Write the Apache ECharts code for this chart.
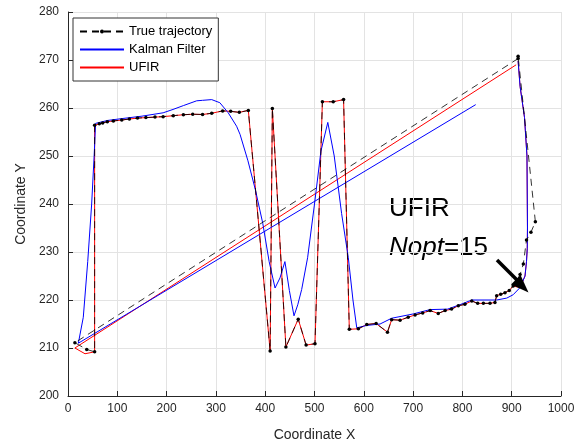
<!DOCTYPE html>
<html>
<head>
<meta charset="utf-8">
<script src="https://cdn.jsdelivr.net/npm/echarts@6/dist/echarts.min.js"></script>
<style>
  html, body { margin: 0; padding: 0; background: #fff; }
  #main { width: 580px; height: 447px; }
</style>
</head>
<body>
<div id="main"></div>
<script>
// true trajectory (black dashed with dots)
var trueX = [913, 14, 38, 54, 54, 63.5, 70.3, 79.8, 92, 109, 124.5, 141, 158, 176.5, 193, 213.6, 234, 253, 273, 291.5, 313.7, 330, 347.5, 365.8,
  410, 414.5, 442, 467, 483, 501, 516, 538, 559, 570.6, 589, 606, 625, 648, 656.5, 673.5, 690, 704, 719.5, 734.5, 751, 765, 778, 791.7,
  805, 819, 831, 842.5, 856, 866, 869.5, 877.7, 886.4, 895, 903, 910, 917, 923.6, 930, 939, 948, 913];
var trueY = [270.3, 211.1, 209.7, 209.2, 256.4, 256.7, 256.9, 257.15, 257.3, 257.5, 257.7, 257.9, 258, 258.1, 258.2, 258.4, 258.6, 258.7, 258.65, 258.9, 259.4, 259.3, 259.1, 259.5,
  209.4, 259.9, 210.2, 216, 210.6, 210.9, 261.3, 261.3, 261.75, 213.9, 214, 214.9, 215.1, 213.3, 215.9, 215.8, 216.4, 216.9, 217.3, 217.8, 217.2, 217.8, 218.1, 218.8,
  219.1, 219.8, 219.3, 219.3, 219.3, 219.5, 220.9, 221.2, 221.5, 222, 222.9, 224, 225.3, 227.5, 232.5, 234.1, 236.3, 270.8];

// Kalman filter estimate (blue)
var kfX = [827, 21, 31, 40, 48, 53, 56, 80, 110, 150, 193, 213, 234, 261, 273, 291.5, 308, 325, 342, 349, 365, 380, 395, 408, 420, 430, 440,
  449, 458.4, 466, 474, 486, 500, 513, 527, 540, 555, 568.6, 578, 585.7, 606, 633, 656.5, 700.5, 734.5, 770, 797, 819, 869.5, 890,
  903, 917, 927, 930, 931.6, 932, 931, 926, 917, 913];
var kfY = [260.7, 211, 216.4, 228, 240, 250, 256.8, 257.4, 257.8, 258.3, 259, 259.7, 260.5, 261.5, 261.6, 261.75, 261.1, 259, 256.2, 254.5, 249, 243, 236, 228, 222.5, 224.6, 228,
  222, 216.7, 219, 222.2, 228.8, 240, 251, 257, 250, 238, 228.8, 220, 214.2, 214.7, 215, 216.2, 217.1, 218, 218.1, 219.1, 220, 220, 220.4,
  221.1, 222.6, 225, 228, 230.8, 235, 250, 258, 264.5, 269.8];

// UFIR estimate (red)
var ufirX = [909, 14, 34.5, 54, 54, 63.5, 70.3, 79.8, 92, 109, 124.5, 141, 158, 176.5, 193, 213.6, 234, 253, 273, 291.5, 313.7, 330, 347.5, 365.8,
  410, 414.5, 442, 467, 483, 501, 516, 538, 559, 570.6, 589, 606, 625, 648, 656.5, 673.5, 690, 704, 719.5, 734.5, 751, 765, 778, 791.7,
  805, 819, 831, 842.5, 856, 866, 869.5, 877.7, 886.4, 895, 903, 917, 927, 930, 931.6, 932, 931, 926, 917, 913];
var ufirY = [269, 210, 208.8, 209.2, 256.4, 256.7, 256.9, 257.15, 257.3, 257.5, 257.7, 257.9, 258, 258.1, 258.2, 258.4, 258.6, 258.7, 258.65, 258.9, 259.4, 259.3, 259.1, 259.5,
  209.4, 259.9, 210.2, 216, 210.6, 210.9, 261.3, 261.3, 261.75, 213.9, 214, 214.9, 215.1, 213.3, 215.9, 215.8, 216.4, 216.9, 217.3, 217.8, 217.2, 217.8, 218.1, 218.8,
  219.1, 219.8, 219.3, 219.3, 219.3, 219.5, 220.9, 221.2, 221.5, 222, 222.9, 222.6, 225, 228, 230.8, 235, 250, 258, 264.5, 269.8];

function pairs(xs, ys) {
  var out = [];
  for (var i = 0; i < xs.length; i++) out.push([xs[i], ys[i]]);
  return out;
}

var font = 'Liberation Sans, Arial, sans-serif';
var myChart = echarts.init(document.getElementById('main'));
myChart.setOption({
  animation: false,
  backgroundColor: '#fff',
  textStyle: { fontFamily: font },
  grid: { left: 68, right: 19, top: 12, bottom: 46 },
  legend: {
    orient: 'vertical',
    left: 73,
    top: 18,
    itemWidth: 44,
    itemHeight: 5,
    itemGap: 3,
    padding: [6, 6, 6, 6],
    borderColor: '#333',
    borderWidth: 1,
    backgroundColor: '#fff',
    textStyle: { fontSize: 13, color: '#000', fontFamily: font, lineHeight: 15 },
    data: [
      { name: 'True trajectory' },
      { name: 'Kalman Filter', itemStyle: { opacity: 0 } },
      { name: 'UFIR', itemStyle: { opacity: 0 } }
    ]
  },
  xAxis: {
    type: 'value',
    min: 0, max: 1000, interval: 100,
    name: 'Coordinate X',
    nameLocation: 'middle',
    nameGap: 32,
    nameTextStyle: { fontSize: 14, color: '#262626' },
    axisLine: { lineStyle: { color: '#262626' } },
    axisTick: { inside: true, length: 5, lineStyle: { color: '#262626' } },
    axisLabel: { fontSize: 12, color: '#262626', margin: 7, formatter: function (v) { return String(v); } },
    splitLine: { show: true, lineStyle: { color: '#e3e3e3' } }
  },
  yAxis: {
    type: 'value',
    min: 200, max: 280, interval: 10,
    name: 'Coordinate Y',
    nameLocation: 'middle',
    nameGap: 38,
    nameTextStyle: { fontSize: 14, color: '#262626' },
    axisLine: { show: true, lineStyle: { color: '#262626' } },
    axisTick: { show: true, inside: true, length: 5, lineStyle: { color: '#262626' } },
    axisLabel: { fontSize: 12, color: '#262626', margin: 9 },
    splitLine: { show: true, lineStyle: { color: '#e3e3e3' } }
  },
  series: [
    {
      name: 'True trajectory',
      type: 'line',
      z: 5,
      data: pairs(trueX, trueY),
      symbol: 'circle',
      symbolSize: 3.5,
      itemStyle: { color: '#000' },
      lineStyle: { color: '#000', width: 0.8, type: [7, 5] }
    },
    {
      name: 'Kalman Filter',
      type: 'line',
      z: 4,
      data: pairs(kfX, kfY),
      symbol: 'none',
      itemStyle: { color: '#0000ff' },
      lineStyle: { color: '#0000ff', width: 1 }
    },
    {
      name: 'UFIR',
      type: 'line',
      z: 3,
      data: pairs(ufirX, ufirY),
      symbol: 'none',
      itemStyle: { color: '#ff0000' },
      lineStyle: { color: '#ff0000', width: 1 }
    }
  ],
  graphic: [
    {
      type: 'text', left: 389, top: 196,
      style: { text: 'UFIR', font: '26px ' + font, fill: '#000' }
    },
    {
      type: 'text', left: 389, top: 235,
      style: {
        text: '{i|Nopt}{n|=15}',
        rich: {
          i: { font: 'italic 26px ' + font, fill: '#000' },
          n: { font: '26px ' + font, fill: '#000' }
        }
      }
    },
    {
      type: 'line', z: 20,
      shape: { x1: 497, y1: 260, x2: 518, y2: 281 },
      style: { stroke: '#000', lineWidth: 3.5 }
    },
    {
      type: 'polygon', z: 20,
      shape: { points: [[528.5, 292.5], [511, 284.5], [520.5, 275]] },
      style: { fill: '#000' }
    }
  ]
});
</script>
</body>
</html>
